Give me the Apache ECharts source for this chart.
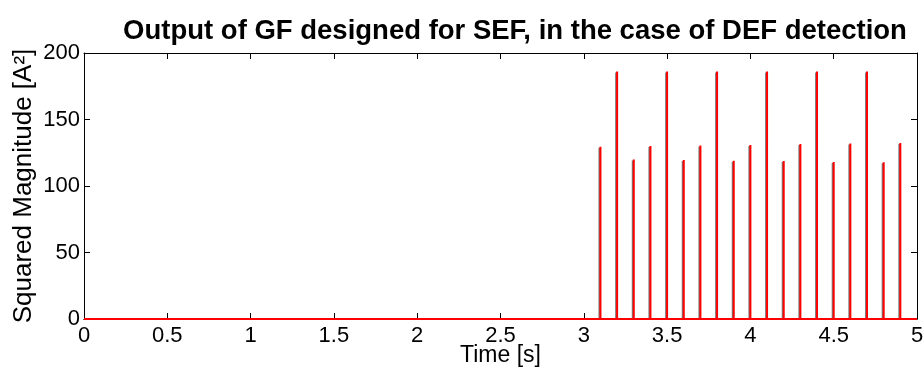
<!DOCTYPE html>
<html><head><meta charset="utf-8">
<script src="https://cdn.jsdelivr.net/npm/echarts@6/dist/echarts.min.js"></script>
<style>html,body{margin:0;padding:0;background:#fff}#c{width:924px;height:372px}</style>
</head><body><div id="c"></div>
<script>
const spikeTimes = [3.1,3.2,3.3,3.4,3.5,3.6,3.7,3.8,3.9,4.0,4.1,4.2,4.3,4.4,4.5,4.6,4.7,4.8,4.9];
const spikeValues = [129.5,186,120,130,186,119.5,130.5,186,119,130.8,186,118.8,131.5,186,118,132,186,117.8,132.3];
const xTicks = [0,0.5,1,1.5,2,2.5,3,3.5,4,4.5,5];
const yTicks = [0,50,100,150,200];

const data = [[0,0]];
spikeTimes.forEach((t,i)=>{ data.push([t,0],[t,spikeValues[i]],[t,0]); });
data.push([5,0]);

const font = 'Liberation Sans, Arial, Helvetica, sans-serif';
const chart = echarts.init(document.getElementById('c'));
const axisCommon = {
  axisLine:{show:true,onZero:false,lineStyle:{color:'#000',width:1}},
  axisTick:{show:true,inside:true,length:6,lineStyle:{color:'#000'}},
  splitLine:{show:false}
};
chart.setOption({
  animation:false,
  title:{text:'Output of GF designed for SEF, in the case of DEF detection',left:510,top:12,textAlign:'center',
    textStyle:{fontFamily:font,fontWeight:'bold',fontSize:27.5,color:'#000'}},
  grid:{left:84,right:7,top:53,bottom:53,containLabel:false,outerBoundsMode:'none'},
  xAxis:[
    Object.assign({type:'value',min:0,max:5,interval:0.5,position:'bottom',
      name:'Time [s]',nameLocation:'middle',nameGap:25,nameMoveOverlap:false,
      nameTextStyle:{fontFamily:font,fontSize:23,color:'#000'},
      axisLabel:{fontFamily:font,fontSize:22,color:'#000',margin:6}},axisCommon),
    Object.assign({type:'value',min:0,max:5,interval:0.5,position:'top',axisLabel:{show:false}},axisCommon)
  ],
  yAxis:[
    Object.assign({type:'value',min:0,max:200,interval:50,position:'left',
      name:'Squared Magnitude [A²]',nameLocation:'middle',nameGap:47,nameMoveOverlap:false,
      nameTextStyle:{fontFamily:font,fontSize:26,color:'#000'},
      axisLabel:{fontFamily:font,fontSize:22,color:'#000',margin:4}},axisCommon),
    Object.assign({type:'value',min:0,max:200,interval:50,position:'right',axisLabel:{show:false}},axisCommon)
  ],
  series:[{
    type:'line',data:data,showSymbol:false,symbol:'none',
    lineStyle:{color:'#ff0000',width:2,shadowColor:'rgba(90,90,90,0.8)',shadowBlur:0,shadowOffsetX:-1,shadowOffsetY:1},z:3
  }]
});
</script></body></html>
